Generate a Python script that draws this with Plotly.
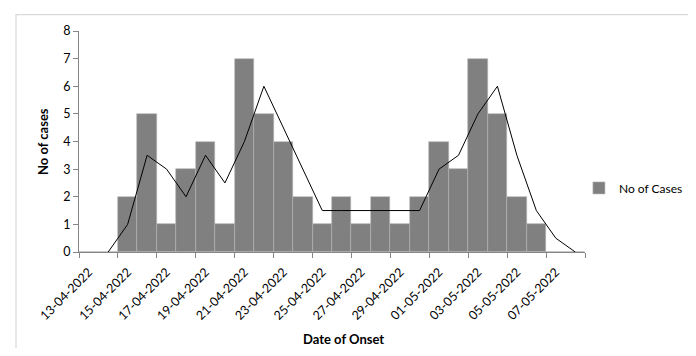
import plotly.graph_objects as go

dates = ["13-04-2022", "14-04-2022", "15-04-2022", "16-04-2022", "17-04-2022",
         "18-04-2022", "19-04-2022", "20-04-2022", "21-04-2022", "22-04-2022",
         "23-04-2022", "24-04-2022", "25-04-2022", "26-04-2022", "27-04-2022",
         "28-04-2022", "29-04-2022", "30-04-2022", "01-05-2022", "02-05-2022",
         "03-05-2022", "04-05-2022", "05-05-2022", "06-05-2022", "07-05-2022",
         "08-05-2022"]
cases = [0, 0, 2, 5, 1, 3, 4, 1, 7, 5, 4, 2, 1, 2, 1, 2, 1, 2, 4, 3, 7, 5, 2, 1, 0, 0]

trend_dates = ["14-04-2022", "15-04-2022", "16-04-2022", "17-04-2022",
               "18-04-2022", "19-04-2022", "20-04-2022", "21-04-2022", "22-04-2022",
               "23-04-2022", "24-04-2022", "25-04-2022", "26-04-2022", "27-04-2022",
               "28-04-2022", "29-04-2022", "30-04-2022", "01-05-2022", "02-05-2022",
               "03-05-2022", "04-05-2022", "05-05-2022", "06-05-2022", "07-05-2022",
               "08-05-2022"]
trend = [0, 1, 3.5, 3, 2, 3.5, 2.5, 4, 6, 4.5, 3, 1.5, 1.5, 1.5, 1.5, 1.5, 1.5,
         3, 3.5, 5, 6, 3.5, 1.5, 0.5, 0]

tick_labels = ["13-04-2022", "15-04-2022", "17-04-2022", "19-04-2022", "21-04-2022",
               "23-04-2022", "25-04-2022", "27-04-2022", "29-04-2022", "01-05-2022",
               "03-05-2022", "05-05-2022", "07-05-2022"]
boundary_ticks = [-0.5, 1.5, 3.5, 5.5, 7.5, 9.5, 11.5, 13.5, 15.5, 17.5, 19.5, 21.5, 23.5, 25.5]

FONT = "Lato"
fig = go.Figure()
fig.add_trace(go.Bar(
    x=dates, y=cases, name="No of Cases",
    marker=dict(color="#808080", line=dict(color="#b4b4b4", width=0.6)),
    width=1.0,
))
fig.add_trace(go.Scatter(
    x=trend_dates, y=trend, mode="lines", showlegend=False,
    line=dict(color="#000000", width=1),
))
# invisible helper on boundary axis so it renders
fig.add_trace(go.Scatter(x=[-0.5], y=[0], xaxis="x2", mode="markers",
                         marker=dict(opacity=0), showlegend=False, hoverinfo="skip"))

# page body has an 8px margin, so the figure sits at (8, 8)
fig.update_layout(
    width=688, height=340,
    margin=dict(l=71, r=111, t=23, b=96, autoexpand=False),
    paper_bgcolor="white", plot_bgcolor="white",
    font=dict(family=FONT, size=12.5, color="#000000"),
    bargap=0,
    showlegend=True,
    legend=dict(x=0.988, y=0.29, xanchor="left", yanchor="middle",
                font=dict(family=FONT, size=12, color="#000000"),
                itemwidth=30, bgcolor="rgba(0,0,0,0)"),
    xaxis=dict(
        type="category", categoryorder="array", categoryarray=dates,
        range=[-0.5, 25.5], automargin=False,
        tickmode="array", tickvals=tick_labels, ticktext=tick_labels,
        tickangle=-45, ticks="", ticklabelstandoff=7,
        showline=True, linecolor="#868686", linewidth=1,
        showgrid=False, zeroline=False,
    ),
    xaxis2=dict(
        overlaying="x", anchor="y", side="bottom", range=[-0.5, 25.5], automargin=False,
        tickmode="array", tickvals=boundary_ticks, ticks="outside", ticklen=5,
        tickcolor="#868686", showticklabels=False, showgrid=False, zeroline=False,
        showline=False,
    ),
    yaxis=dict(
        range=[0, 8], dtick=1, tick0=0, ticks="outside", ticklen=5, tickcolor="#868686",
        showline=True, linecolor="#868686", linewidth=1, showgrid=False, zeroline=False,
        automargin=False,
    ),
    annotations=[
        dict(text="<b>Date of Onset</b>", xref="paper", yref="paper",
             x=(343 - 79) / 506, y=-(339 - 252) / 221, showarrow=False,
             xanchor="center", yanchor="middle", font=dict(family=FONT, size=13)),
        dict(text="<b>No of cases</b>", xref="paper", yref="paper",
             x=-(79 - 43) / 506, y=(252 - 142) / 221, showarrow=False, textangle=-90,
             xanchor="center", yanchor="middle", font=dict(family=FONT, size=13)),
    ],
    shapes=[dict(type="rect", xref="paper", yref="paper",
                 x0=-0.1245, x1=1.4, y0=-0.8, y1=1.0738,
                 line=dict(color="#d9d9d9", width=1.2), fillcolor="rgba(0,0,0,0)",
                 layer="below")],
)

fig.write_html("out.html")
